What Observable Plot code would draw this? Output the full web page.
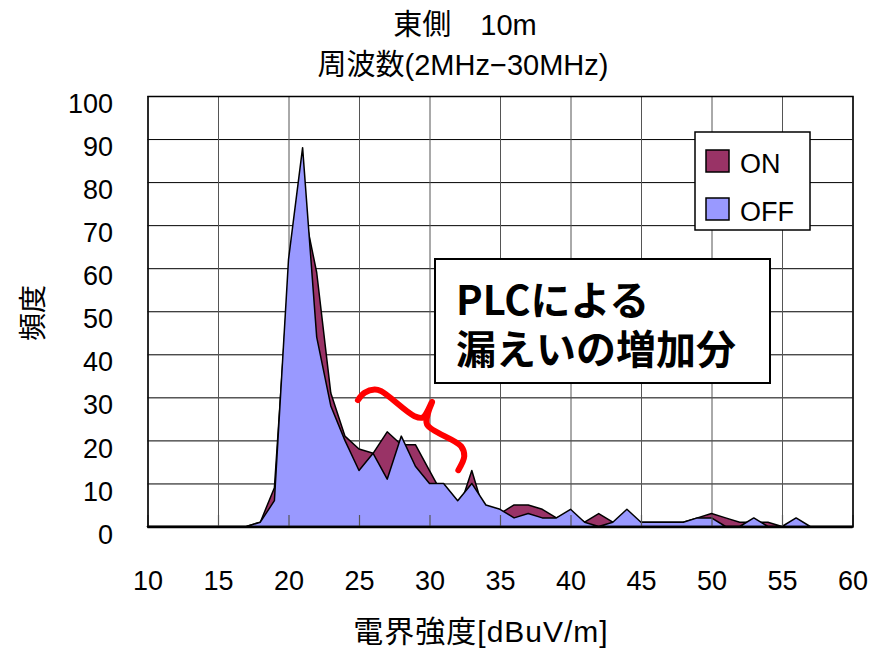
<!DOCTYPE html>
<html><head><meta charset="utf-8">
<script src="https://cdn.jsdelivr.net/npm/d3@7"></script>
<script src="https://cdn.jsdelivr.net/npm/@observablehq/plot@0.6"></script>
<style>body{margin:0;background:#fff} svg{display:block}</style>
</head><body><div id="chart"></div>
<script>
// 電界強度 [dBuV/m]
const dBuV = [10,11,12,13,14,15,16,17,18,19,20,21,22,23,24,25,26,27,28,29,30,31,32,33,34,35,36,37,38,39,40,41,42,43,44,45,46,47,48,49,50,51,52,53,54,55,56,57,58,59,60];
// 頻度 ON
const onCounts  = [0,0,0,0,0,0,0,0,1,9,58,75,59,31,21,18,17,22,19,19,13,7,3,13,2,3,5,5,4,2,3,1,3,1,2,1,1,1,1,2,3,2,1,1,1,0,0,0,0,0,0];
// 頻度 OFF
const offCounts = [0,0,0,0,0,0,0,0,1,6,62,88,44,28,20,13,17,11,21,14,10,10,6,10,5,4,2,3,2,2,4,1,0,1,4,1,1,1,1,2,2,0,0,2,0,0,2,0,0,0,0];
const xTicks = [10,15,20,25,30,35,40,45,50,55,60];
const yTicks = [0,10,20,30,40,50,60,70,80,90,100];
const seriesNames = ["ON","OFF"];
const seriesColors = ["#993366","#9999ff"];
const titleLines = ["東側　10m","周波数(2MHz−30MHz)"];
const xLabel = "電界強度[dBuV/m]";
const yLabel = "頻度";
const noteLines = ["PLCによる","漏えいの増加分"];
// red brace annotation (data coordinates)
const braceX = [24.89,25.36,26.07,26.54,28.90,29.49,30.15,29.89,29.79,32.20,32.43,32.01];
const braceY = [29.47,31.16,31.95,31.56,25.74,25.44,29.07,26.74,23.81,18.77,16.44,13.19];

const rows = dBuV.map((x,i)=>({x, on: onCounts[i], off: offCounts[i]}));
const brace = braceX.map((x,i)=>({x, y: braceY[i]}));
const font = '"Liberation Sans","Noto Sans CJK JP",sans-serif';

const plot = Plot.plot({
  width: 876, height: 648,
  marginLeft: 147.5, marginRight: 23.5, marginTop: 96, marginBottom: 121.5,
  style: {fontFamily: font, fontSize: "27px", background: "#fff", color: "#000"},
  x: {domain: [10,60]},
  y: {domain: [0,100]},
  marks: [
    Plot.gridY(yTicks, {stroke: "#000", strokeOpacity: 1, strokeWidth: 1}),
    Plot.gridX(xTicks, {stroke: "#555", strokeOpacity: 1, strokeWidth: 1}),
    Plot.areaY(rows, {x:"x", y:"on", fill: seriesColors[0], stroke:"#000", strokeWidth:1.5}),
    Plot.areaY(rows, {x:"x", y:"off", fill: seriesColors[1], stroke:"#000", strokeWidth:1.5}),
    Plot.ruleX(xTicks, {insetTop: 419, stroke:"#555", strokeWidth:1.2}),
    Plot.frame({stroke:"#000", strokeWidth:1.5}),
    Plot.ruleY([0], {stroke:"#000", strokeWidth: 2.5}),
    Plot.axisX(xTicks, {tickSize:0, tickPadding:44, label:null, fontSize: 27}),
    Plot.axisY(yTicks, {tickSize:0, tickPadding:35, label:null, fontSize: 27, dy: 8}),
    Plot.line(brace, {x:"x", y:"y", stroke:"#ff0000", strokeWidth:6, curve:"catmull-rom", strokeLinecap:"round", strokeLinejoin:"round"})
  ]
});
document.getElementById("chart").appendChild(plot);

const svg = d3.select(plot);
const g = svg.append("g").attr("font-family", font).attr("fill", "#000").attr("text-anchor", "start");
// titles
g.append("text").attr("x", 465).attr("y", 35).attr("text-anchor","middle").attr("font-size", 29).text(titleLines[0]);
g.append("text").attr("x", 463).attr("y", 75).attr("text-anchor","middle").attr("font-size", 29).text(titleLines[1]);
// axis titles
g.append("text").attr("transform","translate(43,313) rotate(-90)").attr("text-anchor","middle").attr("font-size", 28).text(yLabel);
g.append("text").attr("x", 481).attr("y", 642).attr("text-anchor","middle").attr("font-size", 30).attr("letter-spacing", "1px").text(xLabel);
// legend
g.append("rect").attr("x",695).attr("y",132).attr("width",115).attr("height",98).attr("fill","#fff").attr("stroke","#000").attr("stroke-width",1.5);
seriesNames.forEach((name,i)=>{
  g.append("rect").attr("x",706).attr("y",150+i*48).attr("width",23).attr("height",22).attr("fill",seriesColors[i]).attr("stroke","#000").attr("stroke-width",1.5);
  g.append("text").attr("x",740).attr("y",173+i*48).attr("text-anchor","start").attr("font-size",27).text(name);
});
// note box
g.append("rect").attr("x",435).attr("y",259).attr("width",335).attr("height",124).attr("fill","#fff").attr("stroke","#000").attr("stroke-width",2);
noteLines.forEach((t,i)=>{
  g.append("text").attr("x",456).attr("y",[315,364][i]).attr("text-anchor","start").attr("font-family",'"Noto Sans CJK JP",sans-serif').attr("font-weight",700).attr("font-size",40).text(t);
});
</script>
</body></html>
